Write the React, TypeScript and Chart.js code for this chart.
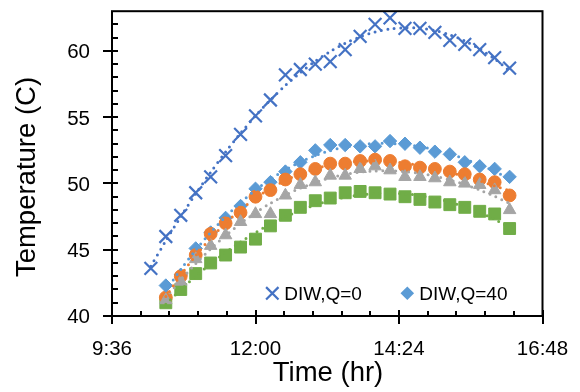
import React, { useEffect, useRef } from 'react';
import { Chart, registerables } from 'chart.js';

Chart.register(...registerables);

// ---- data ----
const timeLabels = [
  '10:15', '10:30', '10:45', '11:00', '11:15', '11:30', '11:45', '12:00', '12:15',
  '12:30', '12:45', '13:00', '13:15', '13:30', '13:45', '14:00', '14:15', '14:30',
  '14:45', '15:00', '15:15', '15:30', '15:45', '16:00', '16:15',
];
const diwQ0 = [
  43.6, 46.0, 47.6, 49.3, 50.5, 52.1, 53.7, 55.1, 56.3, 58.2, 58.6, 59.0, 59.2,
  60.1, 61.1, 62.0, 62.5, 61.7, 61.7, 61.4, 60.8, 60.5, 60.1, 59.5, 58.7,
];
const diwQ40 = [
  null, 42.3, 43.1, 45.1, 46.3, 47.4, 48.3, 49.6, 50.1, 50.9, 51.6, 52.5, 52.9,
  52.9, 52.8, 52.8, 53.2, 53.0, 52.7, 52.4, 52.2, 51.6, 51.3, 51.1, 50.5,
];
const series3 = [
  null, 41.4, 43.0, 44.6, 46.2, 47.0, 47.8, 49.0, 49.5, 50.3, 50.7, 51.1, 51.5,
  51.5, 51.7, 51.8, 51.7, 51.3, 51.2, 51.1, 50.9, 50.7, 50.3, 50.1, 49.1,
];
const series4 = [
  null, 41.2, 42.6, 44.3, 45.3, 46.1, 47.1, 47.7, 47.7, 49.1, 49.9, 50.1, 50.6,
  50.6, 51.1, 51.3, 51.0, 50.5, 50.5, 50.4, 50.1, 50.0, 49.9, 49.5, 48.0,
];
const series5 = [
  null, 41.0, 42.0, 43.2, 44.0, 44.6, 45.2, 45.8, 46.8, 47.6, 48.2, 48.7, 48.9,
  49.3, 49.4, 49.3, 49.2, 49.0, 48.8, 48.6, 48.4, 48.2, 47.9, 47.7, 46.6,
];
const seriesNames = ['DIW,Q=0', 'DIW,Q=40', 'Series 3', 'Series 4', 'Series 5'];
const xTickLabels = ['9:36', '12:00', '14:24', '16:48'];
const yTickLabels = ['40', '45', '50', '55', '60'];
const yMin = 40;
const yMax = 63;
const xTitle = 'Time (hr)';
const yTitle = 'Temperature (C)';

const colors = ['#4472C4', '#5B9BD5', '#ED7D31', '#A5A5A5', '#70AD47'];
const FONT = "'Liberation Sans', Arial, sans-serif";

const toMin = (s: string) => {
  const [h, m] = s.split(':').map(Number);
  return h * 60 + m;
};

function polyfit(xs: number[], ys: number[], order: number): number[] {
  const n = order + 1;
  const A: number[][] = Array.from({ length: n }, () => new Array(n + 1).fill(0));
  for (let k = 0; k < xs.length; k++) {
    for (let i = 0; i < n; i++) {
      for (let j = 0; j < n; j++) A[i][j] += Math.pow(xs[k], i + j);
      A[i][n] += ys[k] * Math.pow(xs[k], i);
    }
  }
  for (let c = 0; c < n; c++) {
    let p = c;
    for (let r = c + 1; r < n; r++) if (Math.abs(A[r][c]) > Math.abs(A[p][c])) p = r;
    [A[c], A[p]] = [A[p], A[c]];
    for (let r = 0; r < n; r++) {
      if (r === c) continue;
      const f = A[r][c] / A[c][c];
      for (let k = c; k <= n; k++) A[r][k] -= f * A[c][k];
    }
  }
  return A.map((row, i) => row[n] / row[i]);
}

function points(vals: (number | null)[]) {
  const out: { x: number; y: number }[] = [];
  vals.forEach((v, i) => {
    if (v !== null) out.push({ x: toMin(timeLabels[i]), y: v });
  });
  return out;
}

function trend(vals: (number | null)[]) {
  const pts = points(vals);
  const t = pts.map((p) => (p.x - 780) / 60);
  const c = polyfit(t, pts.map((p) => p.y), 3);
  return pts.map((p, i) => ({
    x: p.x,
    y: c.reduce((s, ci, k) => s + ci * Math.pow(t[i], k), 0),
  }));
}

const allSeries = [diwQ0, diwQ40, series3, series4, series5];
const styles = ['crossRot', 'rectRot', 'circle', 'triangle', 'rect'];
const radii = [9, 6.7, 6.4, 7.2, 8.4];
const orders = [5, 4, 3, 2, 6];

const decor = {
  id: 'decor',
  afterDraw(chart: any) {
    const { ctx, chartArea: ca, scales } = chart;
    const xs = scales.x;
    const ys = scales.y;
    ctx.save();
    ctx.strokeStyle = '#000';
    ctx.lineWidth = 2;
    ctx.strokeRect(ca.left, ca.top, ca.right - ca.left, ca.bottom - ca.top);
    // y ticks
    ctx.beginPath();
    for (let v = yMin; v < yMax; v++) {
      const y = Math.round(ys.getPixelForValue(v));
      if (v % 5 === 0) {
        ctx.moveTo(ca.left - 9, y);
        ctx.lineTo(ca.left + 6, y);
      } else {
        ctx.moveTo(ca.left, y);
        ctx.lineTo(ca.left + 6, y);
      }
    }
    // x ticks
    const x0 = toMin(xTickLabels[0]);
    for (let k = 0; k <= 15; k++) {
      const x = Math.round(xs.getPixelForValue(x0 + k * 28.8));
      if (k % 5 === 0) {
        ctx.moveTo(x, ca.bottom - 6);
        ctx.lineTo(x, ca.bottom + 8);
      } else {
        ctx.moveTo(x, ca.bottom - 5);
        ctx.lineTo(x, ca.bottom);
      }
    }
    ctx.stroke();

    ctx.fillStyle = '#000';
    ctx.font = `20.5px ${FONT}`;
    ctx.textAlign = 'right';
    ctx.textBaseline = 'alphabetic';
    yTickLabels.forEach((l) => {
      const y = ys.getPixelForValue(Number(l));
      ctx.fillText(l, 90, y + 7.3);
    });
    ctx.textAlign = 'center';
    xTickLabels.forEach((l) => {
      const x = xs.getPixelForValue(toMin(l));
      ctx.fillText(l, x, 355);
    });
    ctx.font = `27.5px ${FONT}`;
    ctx.fillText(xTitle, 328, 381);
    ctx.save();
    ctx.translate(35, 177);
    ctx.rotate(-Math.PI / 2);
    ctx.fillText(yTitle, 0, 0);
    ctx.restore();

    // legend (two visible entries)
    const ly = 293.3;
    ctx.strokeStyle = colors[0];
    ctx.lineWidth = 2.2;
    const h = 6.2;
    const lx0 = 272.3;
    ctx.beginPath();
    ctx.moveTo(lx0 - h, ly - h);
    ctx.lineTo(lx0 + h, ly + h);
    ctx.moveTo(lx0 + h, ly - h);
    ctx.lineTo(lx0 - h, ly + h);
    ctx.stroke();
    const lx1 = 407.3;
    ctx.fillStyle = colors[1];
    ctx.beginPath();
    ctx.moveTo(lx1 - 6.8, ly);
    ctx.lineTo(lx1, ly - 6.8);
    ctx.lineTo(lx1 + 6.8, ly);
    ctx.lineTo(lx1, ly + 6.8);
    ctx.closePath();
    ctx.fill();
    ctx.fillStyle = '#000';
    ctx.font = `19px ${FONT}`;
    ctx.textAlign = 'left';
    ctx.fillText(seriesNames[0], 284.3, ly + 6.8);
    ctx.fillText(seriesNames[1], 419.3, ly + 6.8);
    ctx.restore();
  },
};

export default function App() {
  const ref = useRef<HTMLCanvasElement>(null);
  useEffect(() => {
    const prev = document.body.style.margin;
    document.body.style.margin = '0';
    const datasets: any[] = [];
    allSeries.forEach((vals, i) => {
      datasets.push({
        label: seriesNames[i],
        data: points(vals),
        pointStyle: styles[i],
        pointRadius: radii[i],
        pointBackgroundColor: colors[i],
        pointBorderColor: colors[i],
        pointBorderWidth: i === 0 ? 2.2 : 1,
        showLine: false,
        order: orders[i],
        clip: false,
      });
    });
    allSeries.forEach((vals, i) => {
      datasets.push({
        label: seriesNames[i] + ' trend',
        data: trend(vals),
        showLine: true,
        pointRadius: 0,
        borderColor: colors[i],
        borderWidth: 3,
        borderDash: [0, 6.5],
        borderCapStyle: 'round',
        tension: 0.3,
        order: 0,
        clip: false,
      });
    });
    const chart = new Chart(ref.current!, {
      type: 'scatter',
      data: { datasets },
      options: {
        animation: false,
        responsive: false,
        events: [],
        layout: { padding: { left: 0, top: 5.5, right: 37.5, bottom: 0 } },
        plugins: { legend: { display: false }, tooltip: { enabled: false } },
        scales: {
          x: {
            type: 'linear',
            min: toMin(xTickLabels[0]),
            max: toMin(xTickLabels[xTickLabels.length - 1]),
            grid: { display: false },
            border: { display: false },
            ticks: { display: false },
            afterFit: (s: any) => {
              s.height = 76;
            },
          },
          y: {
            type: 'linear',
            min: yMin,
            max: yMax,
            grid: { display: false },
            border: { display: false },
            ticks: { display: false },
            afterFit: (s: any) => {
              s.width = 112;
            },
          },
        },
      },
      plugins: [decor],
    });
    return () => {
      chart.destroy();
      document.body.style.margin = prev;
    };
  }, []);
  return (
    <div style={{ position: 'absolute', left: 0, top: 0, width: 580, height: 392 }}>
      <canvas ref={ref} width={580} height={392} />
    </div>
  );
}
